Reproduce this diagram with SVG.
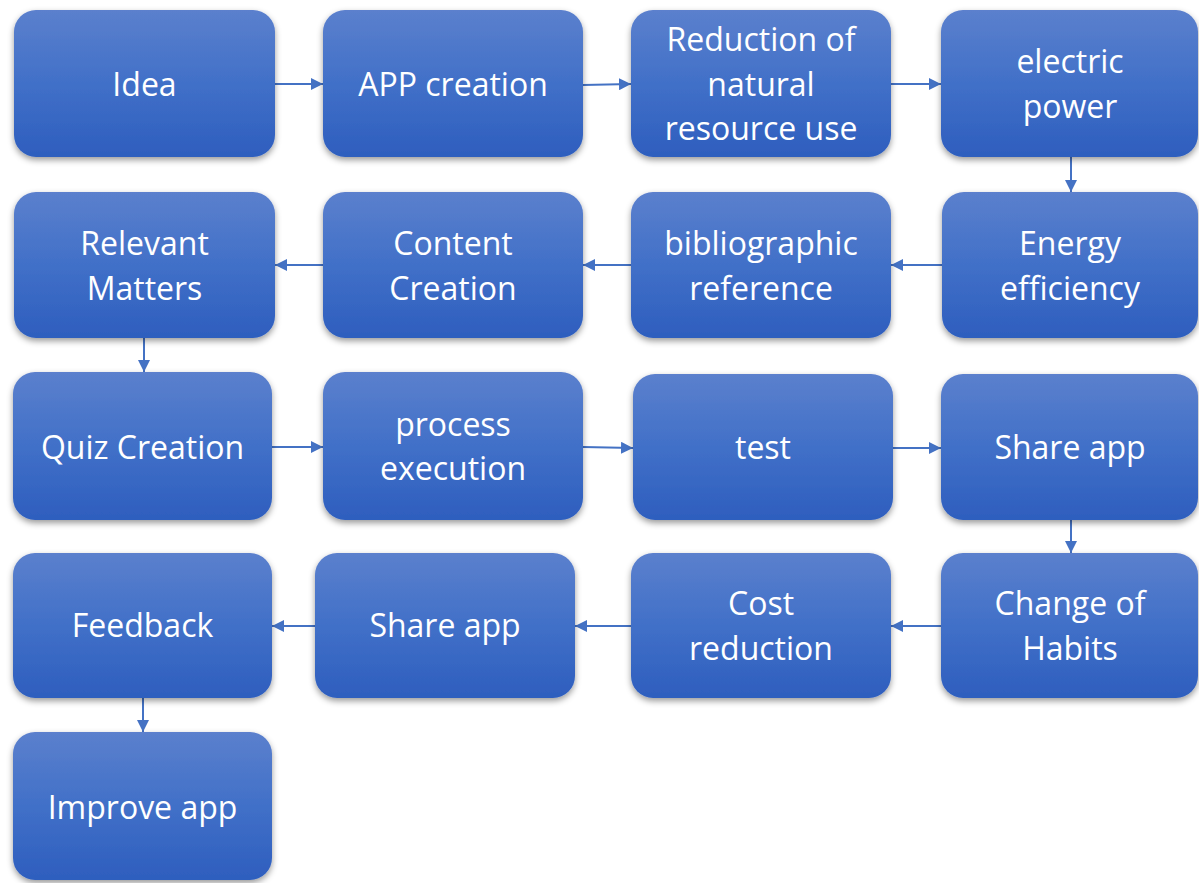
<svg xmlns="http://www.w3.org/2000/svg" width="1199" height="883" viewBox="0 0 1199 883">
<defs>
<linearGradient id="g" x1="0" y1="0" x2="0" y2="1">
<stop offset="0" stop-color="#5b80cd"/>
<stop offset="0.5" stop-color="#4170c8"/>
<stop offset="1" stop-color="#2e5ebe"/>
</linearGradient>
<filter id="sh" x="-10%" y="-10%" width="120%" height="125%">
<feDropShadow dx="0" dy="3" stdDeviation="3" flood-color="#000" flood-opacity="0.4"/>
</filter>
<marker id="ah" viewBox="0 0 12 12" refX="12" refY="6" markerWidth="12" markerHeight="12" markerUnits="userSpaceOnUse" orient="auto">
<path d="M0,0 L12,6 L0,12 z" fill="#4472c4"/>
</marker>
<style>
.box{fill:url(#g);filter:url(#sh)}
.t{font-family:"Open Sans","Noto Sans",sans-serif;font-size:32px;fill:#ffffff;text-anchor:middle}
.c{stroke:#4472c4;stroke-width:2;fill:none;marker-end:url(#ah)}
</style>
</defs>
<rect width="1199" height="883" fill="#ffffff"/>
<g id="connectors">
<line class="c" x1="275" y1="84" x2="323" y2="84"/>
<line class="c" x1="583" y1="85" x2="631" y2="84"/>
<line class="c" x1="891" y1="84" x2="941" y2="84"/>
<line class="c" x1="1071" y1="157" x2="1071" y2="192"/>
<line class="c" x1="942" y1="265" x2="891" y2="265"/>
<line class="c" x1="631" y1="265" x2="583" y2="265"/>
<line class="c" x1="323" y1="265" x2="275" y2="265"/>
<line class="c" x1="144" y1="338" x2="144" y2="372"/>
<line class="c" x1="272" y1="447" x2="323" y2="447"/>
<line class="c" x1="583" y1="447" x2="633" y2="448"/>
<line class="c" x1="893" y1="448" x2="941" y2="448"/>
<line class="c" x1="1071" y1="520" x2="1071" y2="553"/>
<line class="c" x1="941" y1="626" x2="891" y2="626"/>
<line class="c" x1="631" y1="626" x2="575" y2="626"/>
<line class="c" x1="315" y1="626" x2="272" y2="626"/>
<line class="c" x1="143" y1="698" x2="143" y2="732"/>
</g>
<g id="n1"><rect class="box" x="14" y="10" width="261" height="147" rx="22"/><text class="t" x="144.5" y="96">Idea</text></g>
<g id="n2"><rect class="box" x="323" y="10" width="260" height="147" rx="22"/><text class="t" x="453" y="96">APP creation</text></g>
<g id="n3"><rect class="box" x="631" y="10" width="260" height="147" rx="22"/><text class="t" x="761" y="51">Reduction of</text><text class="t" x="761" y="96">natural</text><text class="t" x="761" y="140">resource use</text></g>
<g id="n4"><rect class="box" x="941" y="10" width="257" height="147" rx="22"/><text class="t" x="1070" y="73">electric</text><text class="t" x="1070" y="118">power</text></g>
<g id="n5"><rect class="box" x="942" y="192" width="256" height="146" rx="22"/><text class="t" x="1070" y="255">Energy</text><text class="t" x="1070" y="300">efficiency</text></g>
<g id="n6"><rect class="box" x="631" y="192" width="260" height="146" rx="22"/><text class="t" x="761" y="255">bibliographic</text><text class="t" x="761" y="300">reference</text></g>
<g id="n7"><rect class="box" x="323" y="192" width="260" height="146" rx="22"/><text class="t" x="453" y="255">Content</text><text class="t" x="453" y="300">Creation</text></g>
<g id="n8"><rect class="box" x="14" y="192" width="261" height="146" rx="22"/><text class="t" x="144.5" y="255">Relevant</text><text class="t" x="144.5" y="300">Matters</text></g>
<g id="n9"><rect class="box" x="13" y="372" width="259" height="148" rx="22"/><text class="t" x="142.5" y="459">Quiz Creation</text></g>
<g id="n10"><rect class="box" x="323" y="372" width="260" height="148" rx="22"/><text class="t" x="453" y="436">process</text><text class="t" x="453" y="480">execution</text></g>
<g id="n11"><rect class="box" x="633" y="374" width="260" height="146" rx="22"/><text class="t" x="763" y="459">test</text></g>
<g id="n12"><rect class="box" x="941" y="374" width="257" height="146" rx="22"/><text class="t" x="1070" y="459">Share app</text></g>
<g id="n13"><rect class="box" x="941" y="553" width="257" height="145" rx="22"/><text class="t" x="1070" y="615">Change of</text><text class="t" x="1070" y="660">Habits</text></g>
<g id="n14"><rect class="box" x="631" y="553" width="260" height="145" rx="22"/><text class="t" x="761" y="615">Cost</text><text class="t" x="761" y="660">reduction</text></g>
<g id="n15"><rect class="box" x="315" y="553" width="260" height="145" rx="22"/><text class="t" x="445" y="637">Share app</text></g>
<g id="n16"><rect class="box" x="13" y="553" width="259" height="145" rx="22"/><text class="t" x="142.5" y="637">Feedback</text></g>
<g id="n17"><rect class="box" x="13" y="732" width="259" height="148" rx="22"/><text class="t" x="142.5" y="819">Improve app</text></g>
</svg>
